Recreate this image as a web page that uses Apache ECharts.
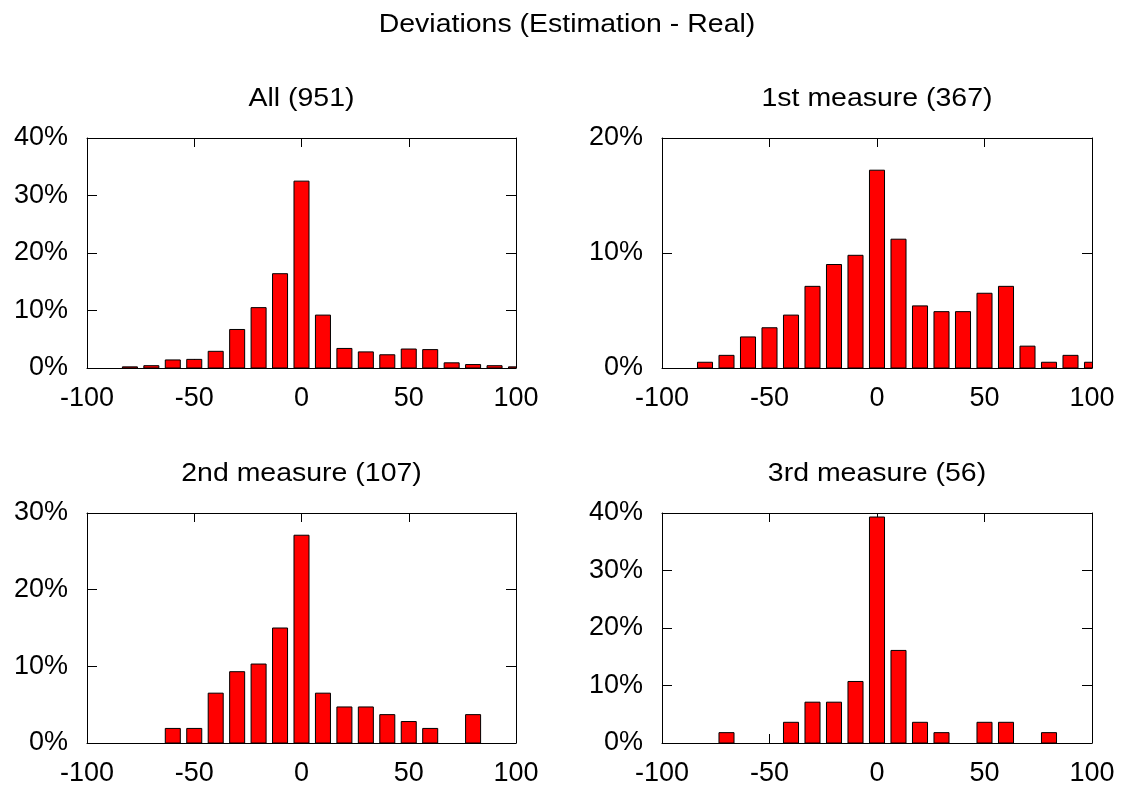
<!DOCTYPE html>
<html>
<head>
<meta charset="utf-8">
<script src="https://cdn.jsdelivr.net/npm/echarts@6/dist/echarts.min.js"></script>
<style>
  html, body { margin: 0; padding: 0; background: #fff; }
  #chart { width: 1125px; height: 787px; }
</style>
</head>
<body>
<div id="chart"></div>
<script>
// Histogram bin centres (deviation, estimation minus real)
const binCenters = [-100, -90, -80, -70, -60, -50, -40, -30, -20, -10, 0, 10, 20, 30, 40, 50, 60, 70, 80, 90, 100];

// Share of cases per bin, in percent
const allValues     = [0, 0, 0.2, 0.4, 1.4, 1.5, 2.9, 6.7, 10.5, 16.4, 32.5, 9.2, 3.4, 2.8, 2.3, 3.3, 3.2, 0.9, 0.6, 0.4, 0.2];
const firstValues   = [0, 0, 0.5, 1.1, 2.7, 3.5, 4.6, 7.1, 9.0, 9.8, 17.2, 11.2, 5.4, 4.9, 4.9, 6.5, 7.1, 1.9, 0.5, 1.1, 0.5];
const secondValues  = [0, 0, 0, 0, 1.9, 1.9, 6.5, 9.3, 10.3, 15.0, 27.1, 6.5, 4.7, 4.7, 3.7, 2.8, 1.9, 0, 3.7, 0, 0];
const thirdValues   = [0, 0, 0, 1.8, 0, 0, 3.6, 7.1, 7.1, 10.7, 39.3, 16.1, 3.6, 1.8, 0, 3.6, 3.6, 0, 1.8, 0, 0];

// Panel titles and y-axis ceilings
const mainTitle = 'Deviations (Estimation - Real)';
const panelTitles = ['All (951)', '1st measure (367)', '2nd measure (107)', '3rd measure (56)'];
const panelValues = [allValues, firstValues, secondValues, thirdValues];
const yMax = [40, 20, 30, 40];

const xMin = -100, xMax = 100, xStep = 50, yStep = 10;
const BOX = 7; // bar width in x units

const FONT = '"Liberation Sans", Arial, Helvetica, sans-serif';
const FS = 26;        // title font size
const LABEL_FS = 27;  // tick label font size
const TEXT_STRETCH = 1.095; // titles use a slightly wide Helvetica look

const grids = [
  { left: 87,  top: 138, width: 429, height: 230 },
  { left: 662, top: 138, width: 430, height: 230 },
  { left: 87,  top: 513, width: 429, height: 230 },
  { left: 662, top: 513, width: 430, height: 230 }
];

const lineStyle = { color: '#000', width: 1 };

const xAxes = [], yAxes = [], series = [], graphics = [];

grids.forEach((g, i) => {
  // bottom and top x axes
  xAxes.push({
    type: 'value', gridIndex: i, position: 'bottom', min: xMin, max: xMax, interval: xStep,
    axisLine: { show: true, onZero: false, lineStyle },
    axisTick: { show: true, inside: true, length: 9, lineStyle },
    axisLabel: { show: true, color: '#000', fontSize: LABEL_FS, fontFamily: FONT, margin: 17, showMinLabel: true, showMaxLabel: true },
    splitLine: { show: false }
  });
  xAxes.push({
    type: 'value', gridIndex: i, position: 'top', min: xMin, max: xMax, interval: xStep,
    axisLine: { show: true, onZero: false, lineStyle },
    axisTick: { show: true, inside: true, length: 9, lineStyle },
    axisLabel: { show: false },
    splitLine: { show: false }
  });
  // left and right y axes
  yAxes.push({
    type: 'value', gridIndex: i, position: 'left', min: 0, max: yMax[i], interval: yStep,
    axisLine: { show: true, onZero: false, lineStyle },
    axisTick: { show: true, inside: true, length: 10, lineStyle },
    axisLabel: { show: true, color: '#000', fontSize: LABEL_FS, fontFamily: FONT, margin: 19, padding: [4, 0, 0, 0], formatter: '{value}%' },
    splitLine: { show: false }
  });
  yAxes.push({
    type: 'value', gridIndex: i, position: 'right', min: 0, max: yMax[i], interval: yStep,
    axisLine: { show: true, onZero: false, lineStyle },
    axisTick: { show: true, inside: true, length: 10, lineStyle },
    axisLabel: { show: false },
    splitLine: { show: false }
  });

  series.push({
    type: 'custom',
    xAxisIndex: i * 2,
    yAxisIndex: i * 2,
    clip: true,
    data: binCenters.map((c, k) => [c, panelValues[i][k]]),
    renderItem: function (params, api) {
      const x = api.value(0), v = api.value(1);
      if (!v) return null;
      const p0 = api.coord([x - BOX / 2, v]);
      const p1 = api.coord([x + BOX / 2, 0]);
      return {
        type: 'rect',
        shape: { x: p0[0], y: p0[1], width: p1[0] - p0[0], height: p1[1] - p0[1] },
        style: { fill: '#ff0000', stroke: '#000', lineWidth: 1 }
      };
    }
  });

  graphics.push({
    type: 'text',
    x: g.left + g.width / 2,
    y: g.top - 39,
    scaleX: TEXT_STRETCH,
    style: { text: panelTitles[i], fill: '#000', font: FS + 'px ' + FONT, textAlign: 'center', textVerticalAlign: 'middle' }
  });
});

graphics.push({
  type: 'text',
  x: 567,
  y: 25,
  scaleX: TEXT_STRETCH,
  style: { text: mainTitle, fill: '#000', font: FS + 'px ' + FONT, textAlign: 'center', textVerticalAlign: 'middle' }
});

const chart = echarts.init(document.getElementById('chart'), null, { renderer: 'canvas' });
chart.setOption({
  backgroundColor: '#fff',
  animation: false,
  grid: grids,
  xAxis: xAxes,
  yAxis: yAxes,
  series: series,
  graphic: graphics
});
</script>
</body>
</html>
